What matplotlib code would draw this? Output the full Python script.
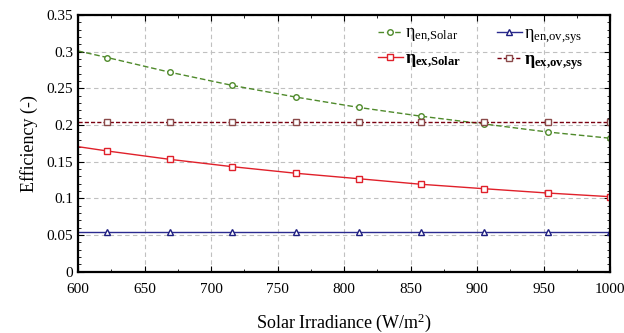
import numpy as np
import matplotlib
matplotlib.use('Agg')
import matplotlib.pyplot as plt
from matplotlib.ticker import MultipleLocator

plt.rcParams['font.family'] = ['Liberation Serif', 'DejaVu Serif']
plt.rcParams['mathtext.fontset'] = 'custom'
plt.rcParams['mathtext.rm'] = 'Liberation Serif'
plt.rcParams['mathtext.it'] = 'Liberation Serif:italic'
plt.rcParams['mathtext.bf'] = 'Liberation Serif:bold'

# solar irradiance (W/m2)
irradiance = [600, 622, 669, 716, 764, 811, 858, 905, 953, 1000]
# efficiencies
eta_en_solar = [0.301, 0.292, 0.272, 0.254, 0.238, 0.224, 0.212, 0.2015, 0.1905, 0.182]
eta_ex_solar = [0.1705, 0.1646, 0.1532, 0.1432, 0.1342, 0.1268, 0.1192, 0.1132, 0.1073, 0.1023]
eta_en_ov_sys = [0.0545] * 10
eta_ex_ov_sys = [0.2037] * 10
ytick_labels = ['0', '0.05', '0.1', '0.15', '0.2', '0.25', '0.3', '0.35']

fig = plt.figure(figsize=(6.24, 3.33), dpi=100)
ax = fig.add_axes([0.125, 0.184, 0.8526, 0.771])

marks = list(range(1, 10))
ax.plot(irradiance, eta_en_solar, color='#4f8a2b', ls=(0, (4, 2)), lw=1,
        marker='o', ms=4, mfc='white', mec='#4f8a2b', mew=1, markevery=marks,
        label=r'$\mathrm{\eta}_{\mathrm{en{,}Solar}}$')
ax.plot(irradiance, eta_ex_solar, color='#e0202a', lw=1,
        marker='s', ms=5, mfc='white', mec='#e0202a', mew=1, markevery=marks,
        label=r'$\mathbf{\eta}_{\mathbf{ex{,}Solar}}$')
ax.plot(irradiance, eta_en_ov_sys, color='#2b2b8f', lw=1,
        marker='^', ms=4.5, mfc='white', mec='#1e1e80', mew=1, markevery=marks,
        label=r'$\mathrm{\eta}_{\mathrm{en{,}ov{,}sys}}$')
ax.plot(irradiance, eta_ex_ov_sys, color='#7a0010', ls=(0, (3, 1.5)), lw=1,
        marker='s', ms=5, mfc='white', mec='#8a4a4a', mew=1, markevery=marks,
        label=r'$\mathbf{\eta}_{\mathbf{ex{,}ov{,}sys}}$')

ax.set_xlim(600, 1000)
ax.set_ylim(0, 0.35)
ax.xaxis.set_major_locator(MultipleLocator(50))
ax.xaxis.set_minor_locator(MultipleLocator(25))
ax.set_yticks(np.arange(0, 0.351, 0.05))
ax.set_yticklabels(ytick_labels)
ax.yaxis.set_minor_locator(MultipleLocator(0.01))
ax.tick_params(which='both', direction='in', top=True, right=True, labelsize=11)
ax.tick_params(axis='x', pad=8)
ax.tick_params(which='major', length=4)
ax.tick_params(which='minor', length=2)
ax.grid(True, which='major', ls=(0, (4, 3)), color='#c0c0c0', lw=0.8)
for s in ax.spines.values():
    s.set_linewidth(1.6)

ax.set_xlabel(r'$\mathrm{Solar\ Irradiance\ (W/m^2)}$', fontsize=13, labelpad=11)
ax.set_ylabel('Efficiency (-)', fontsize=13, labelpad=6)

ax.legend(ncol=2, loc='upper left', frameon=False,
          fontsize=13, handlelength=1.4, handletextpad=0.1,
          columnspacing=2.0, borderpad=0, borderaxespad=0,
          labelspacing=0.3, bbox_to_anchor=(0.563, 0.96))

fig.savefig('out.png', dpi=100)
